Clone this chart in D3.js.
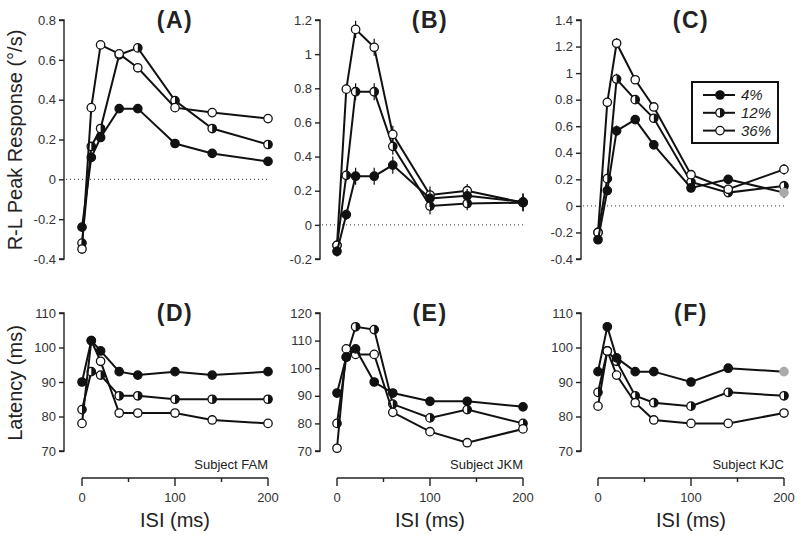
<!DOCTYPE html>
<html>
<head>
<meta charset="utf-8">
<script src="https://cdn.jsdelivr.net/npm/d3@7"></script>
<style>
  body { margin: 0; background: #fff; }
  svg { font-family: "Liberation Sans", Arial, sans-serif; }
</style>
</head>
<body>
<svg id="chart" width="800" height="538"></svg>
<script>
// ISI values (ms) shared by every panel
var isi = [0, 10, 20, 40, 60, 100, 140, 200];
var contrasts = ["4%", "12%", "36%"];
var xTicks = [0, 50, 100, 150, 200];
var xTickLabels = [0, 100, 200];

// R-L peak response (deg/s)
var a4  = [-0.24, 0.11, 0.21, 0.355, 0.355, 0.18, 0.13, 0.09];
var a12 = [-0.32, 0.165, 0.255, 0.625, 0.66, 0.395, 0.255, 0.175];
var a36 = [-0.35, 0.36, 0.675, 0.63, 0.56, 0.36, 0.335, 0.305];

var b4  = [-0.155, 0.06, 0.285, 0.285, 0.35, 0.155, 0.17, 0.135];
var b12 = [-0.12, 0.29, 0.78, 0.78, 0.46, 0.11, 0.125, 0.13];
var b36 = [-0.12, 0.795, 1.145, 1.04, 0.53, 0.175, 0.2, 0.13];

var c4  = [-0.255, 0.115, 0.565, 0.65, 0.46, 0.135, 0.2, 0.1];
var c12 = [-0.2, 0.205, 0.955, 0.8, 0.66, 0.18, 0.1, 0.15];
var c36 = [-0.2, 0.78, 1.225, 0.95, 0.745, 0.235, 0.125, 0.275];

// error bars (half length) for the response panels
var bErr = [0.03, 0.03, 0.05, 0.05, 0.05, 0.05, 0.04, 0.05];
var cErr = [0.03, 0.03, 0.04, 0.03, 0.03, 0.03, 0.03, 0.04];

// latency (ms)
var d4  = [90, 102, 99, 93, 92, 93, 92, 93];
var d12 = [82, 93, 92, 86, 86, 85, 85, 85];
var d36 = [78, 102, 96, 81, 81, 81, 79, 78];

var e4  = [91, 104, 107, 95, 91, 88, 88, 86];
var e12 = [80, 104, 115, 114, 87, 82, 85, 80];
var e36 = [71, 107, 105, 105, 84, 77, 73, 78];

var f4  = [93, 106, 97, 93, 93, 90, 94, 93];
var f12 = [87, 99, 96, 86, 84, 83, 87, 86];
var f36 = [83, 99, 92, 84, 79, 78, 78, 81];

// series are drawn 12%, 36%, then 4% on top
var drawOrder = [1, 2, 0];

var svg = d3.select("#chart");
var fmt = function(d) { return String(+d.toFixed(1)); };

var cols = [{ax: 64, x0: 82, x1: 268}, {ax: 320, x0: 337, x1: 523}, {ax: 581, x0: 598, x1: 784}];
var rows = [{y0: 20, y1: 259}, {y0: 313, y1: 451}];

var panels = [
  {id: "(A)", col: 0, row: 0, dom: [-0.4, 0.8], step: 0.2, data: [a4, a12, a36], err: null, zero: true},
  {id: "(B)", col: 1, row: 0, dom: [-0.2, 1.2], step: 0.2, data: [b4, b12, b36], err: bErr, zero: true},
  {id: "(C)", col: 2, row: 0, dom: [-0.4, 1.4], step: 0.2, data: [c4, c12, c36], err: cErr, zero: true, gray: true, legend: true},
  {id: "(D)", col: 0, row: 1, dom: [70, 110], step: 10, data: [d4, d12, d36], subject: "Subject FAM"},
  {id: "(E)", col: 1, row: 1, dom: [70, 120], step: 10, data: [e4, e12, e36], subject: "Subject JKM"},
  {id: "(F)", col: 2, row: 1, dom: [70, 110], step: 10, data: [f4, f12, f36], subject: "Subject KJC", gray: true}
];

function marker(g, cx, cy, kind, gray) {
  var r = 4.2;
  if (gray) {
    g.append("circle").attr("cx", cx).attr("cy", cy).attr("r", r)
      .attr("fill", "#aaa").attr("stroke", "#aaa").attr("stroke-width", 1.2);
    return;
  }
  g.append("circle").attr("cx", cx).attr("cy", cy).attr("r", r)
    .attr("fill", kind === 0 ? "#111" : "#fff")
    .attr("stroke", "#111").attr("stroke-width", 1.3);
  if (kind === 1) {
    g.append("path")
      .attr("d", "M" + cx + "," + (cy - r) + " A" + r + "," + r + " 0 0,1 " + cx + "," + (cy + r) + " Z")
      .attr("fill", "#111");
  }
}

panels.forEach(function(p) {
  var c = cols[p.col], rw = rows[p.row];
  var x = d3.scaleLinear().domain([0, 200]).range([c.x0, c.x1]);
  var y = d3.scaleLinear().domain(p.dom).range([rw.y1, rw.y0]);
  var g = svg.append("g");

  var ticks = d3.range(p.dom[0], p.dom[1] + p.step / 2, p.step);
  var yAxis = d3.axisLeft(y).tickValues(ticks).tickSize(5).tickPadding(3).tickFormat(fmt);
  var ya = g.append("g").attr("transform", "translate(" + c.ax + ",0)").call(yAxis);
  ya.select(".domain").attr("d", "M-5," + y(p.dom[0]) + "H0V" + y(p.dom[1]) + "H-5")
    .attr("stroke", "#222").attr("stroke-width", 1.4);
  ya.selectAll(".tick line").attr("stroke", "#222").attr("stroke-width", 1.4);
  ya.selectAll(".tick text").attr("font-size", 13).attr("fill", "#333");

  g.append("text").attr("x", (c.x0 + c.x1) / 2).attr("y", (p.row === 0 ? 20 : 313) + 8)
    .attr("text-anchor", "middle").attr("font-size", 23).attr("font-weight", "bold")
    .attr("letter-spacing", 1.5).attr("fill", "#222").text(p.id);

  if (p.zero) {
    g.append("line").attr("x1", c.ax + 2).attr("x2", c.x1).attr("y1", y(0)).attr("y2", y(0))
      .attr("stroke", "#333").attr("stroke-width", 1).attr("stroke-dasharray", "1,3");
  }

  if (p.row === 1) {
    var xa = g.append("g").attr("transform", "translate(0,478)");
    xa.append("line").attr("x1", x(0)).attr("x2", x(200)).attr("stroke", "#222").attr("stroke-width", 1.4);
    xa.selectAll(".xt").data(xTicks).enter().append("line")
      .attr("x1", x).attr("x2", x).attr("y1", 0)
      .attr("y2", function(d) { return xTickLabels.indexOf(d) >= 0 ? 8 : 4; })
      .attr("stroke", "#222").attr("stroke-width", 1.4);
    xa.selectAll(".xl").data(xTickLabels).enter().append("text")
      .attr("x", x).attr("y", 24).attr("text-anchor", "middle")
      .attr("font-size", 13).attr("fill", "#333").text(function(d) { return d; });
    g.append("text").attr("x", (c.x0 + c.x1) / 2).attr("y", 527).attr("text-anchor", "middle")
      .attr("font-size", 20).attr("fill", "#222").text("ISI (ms)");
    g.append("text").attr("x", c.x1).attr("y", 469).attr("text-anchor", "end")
      .attr("font-size", 13).attr("fill", "#222").text(p.subject);
  }

  var line = d3.line().x(function(d, i) { return x(isi[i]); }).y(function(d) { return y(d); });
  drawOrder.forEach(function(k) {
    var vals = p.data[k];
    if (p.err) {
      vals.forEach(function(v, i) {
        g.append("line").attr("x1", x(isi[i])).attr("x2", x(isi[i]))
          .attr("y1", y(v - p.err[i])).attr("y2", y(v + p.err[i]))
          .attr("stroke", "#111").attr("stroke-width", 1.2);
      });
    }
    g.append("path").datum(vals).attr("d", line).attr("fill", "none")
      .attr("stroke", "#111").attr("stroke-width", 2);
    vals.forEach(function(v, i) {
      marker(g, x(isi[i]), y(v), k, p.gray && k === 0 && i === vals.length - 1);
    });
  });

  if (p.legend) {
    var lg = g.append("g");
    lg.append("rect").attr("x", 692).attr("y", 82).attr("width", 86).attr("height", 61)
      .attr("fill", "#fff").attr("stroke", "#111").attr("stroke-width", 2);
    contrasts.forEach(function(name, k) {
      var ly = 95 + k * 17.8;
      lg.append("line").attr("x1", 703).attr("x2", 735).attr("y1", ly).attr("y2", ly)
        .attr("stroke", "#111").attr("stroke-width", 2);
      marker(lg, 720, ly, k, false);
      lg.append("text").attr("x", 741).attr("y", ly + 5).attr("font-size", 15)
        .attr("font-style", "italic").attr("fill", "#222").text(name);
    });
  }
});

// shared y labels
svg.append("text").attr("transform", "translate(22,140) rotate(-90)").attr("text-anchor", "middle")
  .attr("font-size", 20).attr("fill", "#222").text("R-L Peak Response (°/s)");
svg.append("text").attr("transform", "translate(22,383) rotate(-90)").attr("text-anchor", "middle")
  .attr("font-size", 20).attr("fill", "#222").text("Latency (ms)");
</script>
</body>
</html>
